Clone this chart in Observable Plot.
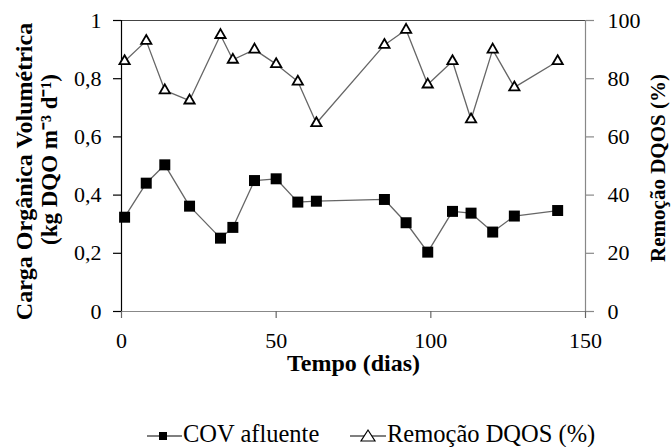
<!DOCTYPE html>
<html><head><meta charset="utf-8">
<script src="https://cdn.jsdelivr.net/npm/d3@7"></script>
<script src="https://cdn.jsdelivr.net/npm/@observablehq/plot@0.6"></script>
<style>
body{margin:0;background:#fff;}
#wrap{width:672px;height:447px;position:relative;}
#wrap svg{display:block;}
#wrap svg, #wrap svg text{font-family:"Liberation Serif","Times New Roman",Times,serif !important;}
</style></head><body><div id="wrap"></div>
<script>
const dias = [1,8,14,22,32,36,43,50,57,63,85,92,99,107,113,120,127,141];
const cov = [0.324,0.441,0.504,0.362,0.252,0.289,0.450,0.456,0.376,0.379,0.385,0.305,0.204,0.344,0.338,0.273,0.328,0.347];
const remocao = [86,93,76,72.5,95,86.5,90,85,79,64.7,91.6,96.8,78,86,66,90,77,86];
const xTicks = [0,50,100,150];
const yTicks = [0,0.2,0.4,0.6,0.8,1];
const y2Ticks = [0,20,40,60,80,100];
const xLabel = "Tempo (dias)";
const yLabel1 = "Carga Orgânica Volumétrica";
const yLabel2 = "(kg DQO m⁻³ d⁻¹)";
const y2Label = "Remoção DQOS (%)";
const seriesNames = ["COV afluente", "Remoção DQOS (%)"];

const rows = dias.map((d, i) => ({dia: d, cov: cov[i], rem: remocao[i]}));
const font = "'Liberation Serif','Times New Roman',Times,serif";

const chart = Plot.plot({
  width: 672,
  height: 400,
  marginLeft: 121,
  marginRight: 87,
  marginTop: 20,
  marginBottom: 89,
  style: {fontFamily: font, background: "#fff", color: "#000"},
  x: {domain: [0, 150]},
  y: {domain: [0, 1]},
  marks: [
    Plot.ruleY([0], {stroke: "#888", strokeWidth: 1.2}),
    Plot.ruleY([1], {stroke: "#444", strokeWidth: 1.2}),
    Plot.ruleX([150], {stroke: "#888", strokeWidth: 1.2}),
    Plot.ruleX([0], {stroke: "#000", strokeWidth: 1.2}),
    Plot.axisX(xTicks, {anchor: "bottom", tickSize: 7, tickPadding: 14, stroke: "#666", strokeWidth: 1.2, fontSize: 22, fill: "#000", label: null}),
    Plot.axisY(yTicks, {anchor: "left", tickSize: 8, tickPadding: 12, stroke: "#000", strokeWidth: 1.2, fontSize: 22, fill: "#000", label: null,
      tickFormat: d => String(Math.round(d * 10) / 10).replace(".", ",")}),
    Plot.axisY(y2Ticks.map(v => v / 100), {anchor: "right", tickSize: 8, tickPadding: 14, stroke: "#888", strokeWidth: 1.2, fontSize: 22, fill: "#000", label: null,
      tickFormat: d => String(Math.round(d * 100))}),
    Plot.line(rows, {x: "dia", y: "cov", stroke: "#666", strokeWidth: 1.3}),
    Plot.line(rows, {x: "dia", y: d => d.rem / 100, stroke: "#666", strokeWidth: 1.3}),
    Plot.dot(rows, {x: "dia", y: "cov", symbol: "square", r: 6.2, fill: "#000", stroke: "none"}),
    Plot.dot(rows, {x: "dia", y: d => d.rem / 100, symbol: "triangle2", r: 4.9, fill: "#fff", stroke: "#000", strokeWidth: 1.8}),
    Plot.text([xLabel], {frameAnchor: "bottom", dy: 52, text: d => d, fontSize: 24, fontWeight: "bold", fill: "#000", lineAnchor: "middle", textAnchor: "middle"}),
    Plot.text([yLabel1], {frameAnchor: "left", dx: -97.5, dy: 5.5, rotate: -90, text: d => d, fontSize: 24, fontWeight: "bold", fill: "#000", lineAnchor: "middle", textAnchor: "middle"}),
    Plot.text([yLabel2], {frameAnchor: "left", dx: -72, dy: -6.5, rotate: -90, text: d => d, fontSize: 23, fontWeight: "bold", fill: "#000", lineAnchor: "middle", textAnchor: "middle"}),
    Plot.text([y2Label], {frameAnchor: "right", dx: 73, dy: 2, rotate: -90, text: d => d, fontSize: 21, fontWeight: "bold", fill: "#000", lineAnchor: "middle", textAnchor: "middle"})
  ]
});

const wrap = document.getElementById("wrap");
wrap.appendChild(chart);

// legend below the plot
const ns = "http://www.w3.org/2000/svg";
const leg = document.createElementNS(ns, "svg");
leg.setAttribute("width", 672);
leg.setAttribute("height", 47);
const cy = 36;
function el(tag, attrs) { const e = document.createElementNS(ns, tag); for (const k in attrs) e.setAttribute(k, attrs[k]); leg.appendChild(e); return e; }
el("line", {x1: 147, x2: 182, y1: cy, y2: cy, stroke: "#000", "stroke-width": 1.2});
el("rect", {x: 159, y: cy - 4, width: 8, height: 8, fill: "#000"});
const t1 = el("text", {x: 183, y: cy + 6, "font-size": 24.5, fill: "#000"}); t1.textContent = seriesNames[0];
el("line", {x1: 350, x2: 386, y1: cy, y2: cy, stroke: "#000", "stroke-width": 1.2});
el("path", {d: `M${368 - 7},${cy + 5} L${368 + 7},${cy + 5} L368,${cy - 6} Z`, fill: "#fff", stroke: "#000", "stroke-width": 1.2});
const t2 = el("text", {x: 387, y: cy + 6, "font-size": 24.5, fill: "#000"}); t2.textContent = seriesNames[1];
wrap.appendChild(leg);
</script></body></html>
